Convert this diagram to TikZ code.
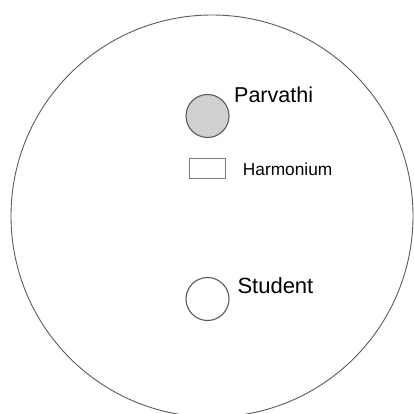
\documentclass[tikz,border=0pt]{standalone}
\usepackage{fontspec}
\setmainfont{Liberation Sans}
\definecolor{edge}{HTML}{5A5A5A}
\definecolor{fillgray}{HTML}{D0D0D0}
\begin{document}
\begin{tikzpicture}[x=1pt,y=1pt,
  person/.style={circle,draw=edge,line width=1.1pt,minimum size=43pt,inner sep=0pt},
  lbl/.style={inner sep=0pt,anchor=base west,text=black},
  box/.style={rectangle,draw=edge!80,line width=0.9pt,minimum width=36pt,minimum height=20pt,inner sep=0pt}]
\useasboundingbox (0,0) rectangle (414,-414);
\begin{scope}
\clip (0,0) rectangle (414,-414);
\node[circle,draw=edge,line width=0.9pt,minimum size=402pt,inner sep=0pt] (room) at (212,-216) {};
\end{scope}
\node[person,fill=fillgray] (parvathi) at (207.5,-116) {};
\node[lbl,font=\fontsize{21.5}{24}\selectfont] (parvathiL) at (234,-102.7) {Parvathi};
\node[box] (harmonium) at (207.5,-168.7) {};
\node[lbl,font=\fontsize{17.3}{20}\selectfont] (harmoniumL) at (242.7,-175.7) {Harmonium};
\node[person,fill=white] (student) at (207.5,-299) {};
\node[lbl,font=\fontsize{22}{25}\selectfont] (studentL) at (237.3,-293.3) {Student};
\end{tikzpicture}
\end{document}
